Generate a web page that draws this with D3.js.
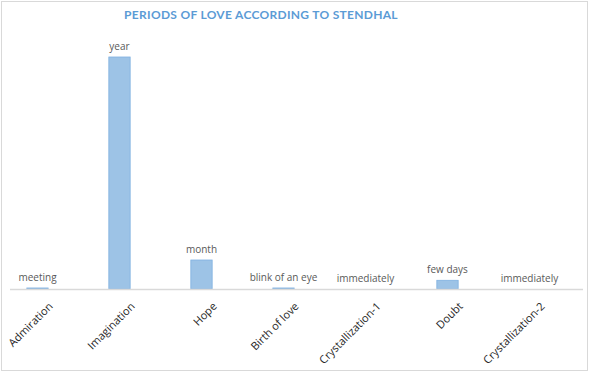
<!DOCTYPE html>
<html>
<head>
<meta charset="utf-8">
<script src="https://cdn.jsdelivr.net/npm/d3@7"></script>
<style>
  body { margin: 0; background: #fff; }
  svg { display: block; font-family: "Open Sans", "Noto Sans", sans-serif; }
</style>
</head>
<body>
<div id="chart"></div>
<script>
// chart data (relative durations)
const categories = ['Admiration', 'Imagination', 'Hope', 'Birth of love', 'Crystallization-1', 'Doubt', 'Crystallization-2'];
const values = [0.35, 80, 10, 0.35, 0, 3, 0];
const durationLabels = ['meeting', 'year', 'month', 'blink of an eye', 'immediately', 'few days', 'immediately'];
const title = 'PERIODS OF LOVE ACCORDING TO STENDHAL';

const width = 591;
const height = 373;
const axisY = 289;

const svg = d3.select('#chart')
  .append('svg')
  .attr('width', width)
  .attr('height', height);

// outer chart border
svg.append('rect')
  .attr('x', 1.5).attr('y', 1.5)
  .attr('width', 586).attr('height', 369)
  .attr('fill', '#fff')
  .attr('stroke', '#d9d9d9');

svg.append('text')
  .attr('x', 261)
  .attr('y', 19)
  .attr('text-anchor', 'middle')
  .style('font-family', 'Lato, "Open Sans", sans-serif')
  .style('font-size', '12px')
  .style('font-weight', 'bold')
  .style('letter-spacing', '0.3px')
  .style('fill', '#5b9bd5')
  .text(title);

// scales
const x = d3.scalePoint()
  .domain(categories)
  .range([37.5, 529.5]);
const barW = x.step() * 0.26;

const y = d3.scaleLinear()
  .domain([0, 90])
  .range([axisY, 28]);

// bars
svg.append('g').selectAll('rect')
  .data(values)
  .join('rect')
  .attr('x', (d, i) => x(categories[i]) - barW / 2)
  .attr('y', (d) => y(d))
  .attr('width', barW)
  .attr('height', (d) => axisY - y(d))
  .attr('fill', '#9dc3e6')
  .attr('stroke', (d) => d > 0 ? '#7fb0e0' : 'none')
  .attr('stroke-width', 0.8);

// axis line
svg.append('line')
  .attr('x1', 10).attr('x2', 583)
  .attr('y1', axisY + 0.5).attr('y2', axisY + 0.5)
  .attr('stroke', '#d9d9d9')
  .attr('stroke-width', 1.3);

// data labels
svg.append('g').selectAll('text')
  .data(values)
  .join('text')
  .attr('x', (d, i) => x(categories[i]))
  .attr('y', (d) => y(d) - 7)
  .attr('text-anchor', 'middle')
  .style('font-size', '10px')
  .style('fill', '#595959')
  .text((d, i) => durationLabels[i]);

// category labels, rotated
svg.append('g').selectAll('text')
  .data(categories)
  .join('text')
  .attr('transform', (d) => `translate(${x(d) + 16},${axisY + 18}) rotate(-45)`)
  .attr('text-anchor', 'end')
  .style('font-size', '11px')
  .style('fill', '#262626')
  .text((d) => d);
</script>
</body>
</html>
